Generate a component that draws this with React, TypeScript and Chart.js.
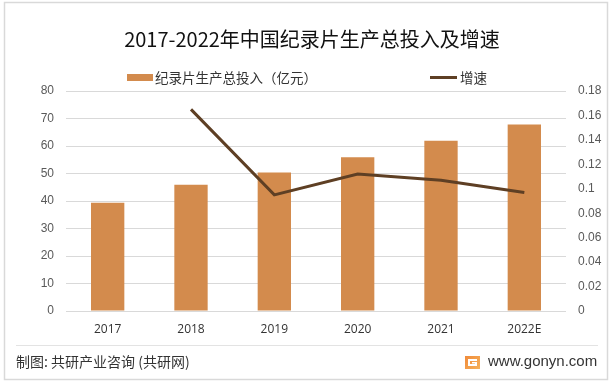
import React, { useEffect, useRef } from "react";
import { Chart, registerables } from "chart.js";

Chart.register(...registerables);

const categories = ["2017", "2018", "2019", "2020", "2021", "2022E"];
const investment = [39.4, 45.9, 50.4, 55.9, 61.9, 67.8];
const growth = [null, 0.165, 0.095, 0.112, 0.107, 0.097];
const titleText = "2017-2022年中国纪录片生产总投入及增速";
const barLabel = "纪录片生产总投入（亿元）";
const lineLabel = "增速";
const footerLeft = "制图: 共研产业咨询 (共研网)";
const footerRight = "www.gonyn.com";

const BAR_COLOR = "#D38B4D";
const LINE_COLOR = "#5E3F24";
const CJK = '"Noto Sans CJK SC", "Noto Sans", sans-serif';

const decorPlugin = {
  id: "decor",
  beforeDraw(chart: any) {
    const ctx = chart.ctx;
    ctx.save();
    ctx.fillStyle = "#ffffff";
    ctx.fillRect(0, 0, chart.width, chart.height);
    ctx.strokeStyle = "#d9d9d9";
    ctx.lineWidth = 1.5;
    ctx.strokeRect(4.5, 2.5, 603, 377);
    // footer separator
    ctx.strokeStyle = "#e3e3e3";
    ctx.lineWidth = 1;
    ctx.beginPath();
    ctx.moveTo(16, 345.5);
    ctx.lineTo(598, 345.5);
    ctx.stroke();
    ctx.restore();
  },
  afterDraw(chart: any) {
    const ctx = chart.ctx;
    ctx.save();
    // title
    ctx.fillStyle = "#111111";
    ctx.font = `20px ${CJK}`;
    ctx.textAlign = "center";
    ctx.textBaseline = "middle";
    ctx.fillText(titleText, 312, 39);
    // legend
    ctx.textAlign = "left";
    ctx.font = `13.5px ${CJK}`;
    ctx.fillStyle = BAR_COLOR;
    ctx.fillRect(127, 74, 26, 7);
    ctx.fillStyle = "#333333";
    ctx.fillText(barLabel, 155, 77.5);
    ctx.strokeStyle = LINE_COLOR;
    ctx.lineWidth = 3;
    ctx.beginPath();
    ctx.moveTo(430, 77.5);
    ctx.lineTo(457, 77.5);
    ctx.stroke();
    ctx.fillText(lineLabel, 460, 77.5);
    // footer
    ctx.font = `14px ${CJK}`;
    ctx.fillStyle = "#333333";
    ctx.fillText(footerLeft, 16, 362);
    // logo
    const g = ctx.createLinearGradient(465, 356, 480, 369);
    g.addColorStop(0, "#F08A3A");
    g.addColorStop(1, "#F6B25A");
    ctx.fillStyle = g;
    ctx.fillRect(465, 356, 15, 13);
    ctx.fillStyle = "#ffffff";
    ctx.fillRect(468, 359, 9, 2);
    ctx.fillRect(468, 359, 2, 7);
    ctx.fillRect(468, 364, 9, 2);
    ctx.fillRect(475, 362, 2, 4);
    ctx.fillRect(472, 362, 5, 1.5);
    ctx.font = '15px "Liberation Sans", Arial, sans-serif';
    ctx.fillStyle = "#333333";
    ctx.fillText(footerRight, 488, 362);
    ctx.restore();
  },
};

export default function App() {
  const ref = useRef<HTMLCanvasElement | null>(null);
  useEffect(() => {
    if (!ref.current) return;
    const chart = new Chart(ref.current, {
      type: "bar",
      data: {
        labels: categories,
        datasets: [
          {
            type: "bar",
            label: barLabel,
            data: investment,
            backgroundColor: BAR_COLOR,
            barPercentage: 0.4,
            categoryPercentage: 1,
            yAxisID: "y",
            order: 2,
          },
          {
            type: "line",
            label: lineLabel,
            data: growth as any,
            borderColor: LINE_COLOR,
            borderWidth: 3,
            pointRadius: 0,
            tension: 0,
            yAxisID: "y1",
            order: 1,
          },
        ],
      },
      options: {
        responsive: false,
        animation: false,
        devicePixelRatio: 1,
        layout: { padding: { top: 91, bottom: 43, left: 0, right: 0 } },
        plugins: {
          legend: { display: false },
          title: { display: false },
          tooltip: { enabled: false },
        },
        scales: {
          x: {
            grid: { display: false, drawTicks: false },
            border: { display: false },
            ticks: {
              color: "#333333",
              padding: 11,
              font: { size: 12, family: '"Open Sans", "Noto Sans", sans-serif' },
            },
            afterFit: (s: any) => {
              s.height = 30;
            },
          },
          y: {
            position: "left",
            min: 0,
            max: 80,
            ticks: {
              stepSize: 10,
              color: "#595959",
              padding: 12,
              font: { size: 12, family: '"Liberation Sans", Arial, sans-serif' },
            },
            grid: { color: "#d9d9d9", lineWidth: 1, drawTicks: false },
            border: { display: false },
            afterFit: (s: any) => {
              s.width = 66;
            },
          },
          y1: {
            position: "right",
            min: 0,
            max: 0.18,
            ticks: {
              stepSize: 0.02,
              color: "#595959",
              padding: 12,
              font: { size: 12, family: '"Liberation Sans", Arial, sans-serif' },
              callback: (v: any) => String(Number(Number(v).toFixed(2))),
            },
            grid: { display: false, drawTicks: false },
            border: { display: false },
            afterFit: (s: any) => {
              s.width = 46;
            },
          },
        },
      },
      plugins: [decorPlugin],
    });
    return () => chart.destroy();
  }, []);
  return (
    <div style={{ position: "fixed", left: 0, top: 0, width: 612, height: 384, background: "#fff" }}>
      <canvas ref={ref} width={612} height={384} style={{ display: "block" }} />
    </div>
  );
}
